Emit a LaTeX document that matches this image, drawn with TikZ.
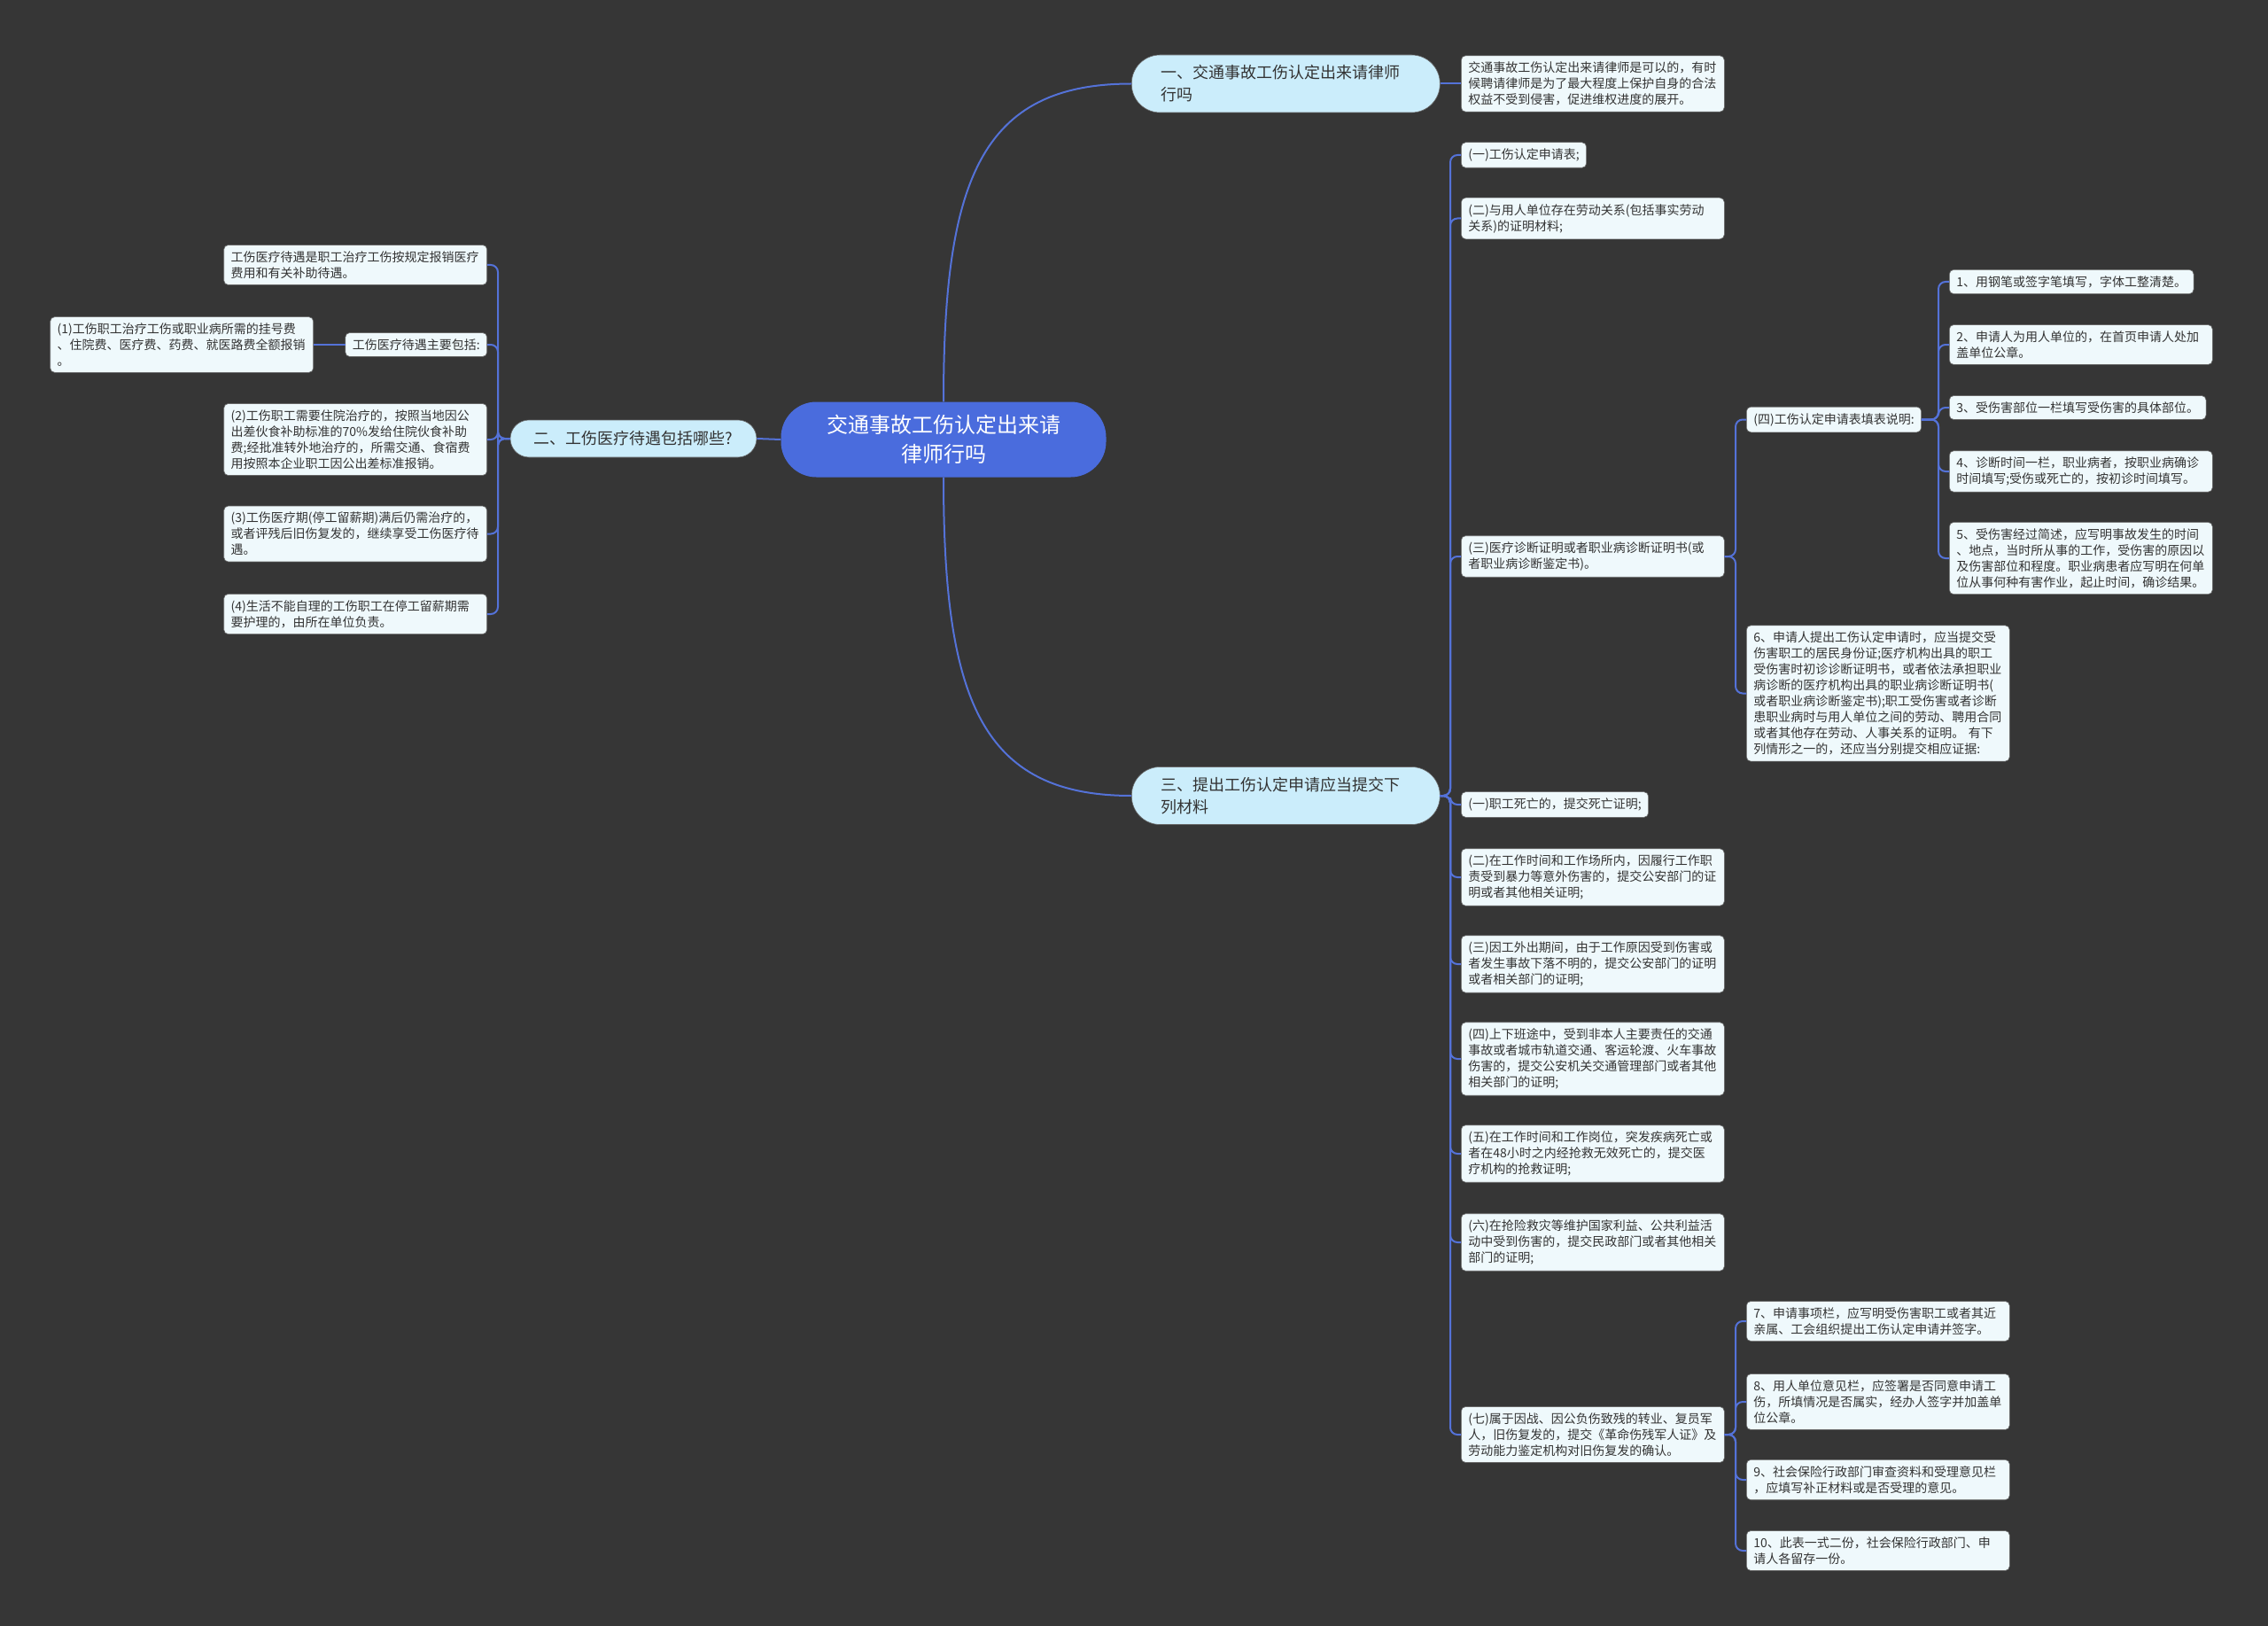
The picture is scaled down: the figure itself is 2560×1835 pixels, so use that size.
\documentclass[tikz,border=0pt]{standalone}
\usepackage{fontspec}
\usepackage{tikz}
\usetikzlibrary{positioning,calc}
\newfontfamily\cjk{Noto Sans CJK SC}
\definecolor{cBack}{HTML}{363636}
\definecolor{cLine}{HTML}{5472D8}
\definecolor{cRoot}{HTML}{4A6CDD}
\definecolor{cBranch}{HTML}{CBEDFB}
\definecolor{cLeaf}{HTML}{EFF9FC}
\definecolor{cInk}{HTML}{333333}
\tikzset{
  root/.style  ={rounded corners=40pt,fill=cRoot,text=white,align=center,
                 minimum width=367pt,minimum height=85pt,
                 font=\cjk\fontsize{24}{33}\selectfont},
  branch/.style={fill=cBranch,draw=black!60,line width=0.6pt,text=cInk,
                 font=\cjk\fontsize{18}{25}\selectfont},
  bigbr/.style ={branch,rounded corners=32pt,text width=282pt,align=left,
                 inner xsep=33pt,minimum height=65pt,anchor=west},
  leaf/.style  ={rounded corners=5pt,fill=cLeaf,draw=black!60,line width=0.6pt,
                 text=cInk,align=left,inner xsep=8pt,inner ysep=7pt,
                 font=\cjk\fontsize{14}{18}\selectfont},
  rleaf/.style ={leaf,anchor=west},
  lleaf/.style ={leaf,anchor=east},
  wide/.style  ={text width=281pt},
  link/.style  ={draw=cLine,line width=2pt,rounded corners=8pt},
}

\begin{document}
\begin{tikzpicture}[x=1pt,y=-1pt]
% canvas
\fill[cBack] (0,0) rectangle (2560,1835);
\useasboundingbox (0,0) rectangle (2560,1835);

% centre and main branches
\node[root] (root) at (1065,496) {交通事故工伤认定出来请\\律师行吗};
\node[bigbr] (b1) at (1277,94.5) {一、交通事故工伤认定出来请律师\\行吗};
\node[bigbr] (b3) at (1277,898) {三、提出工伤认定申请应当提交下\\列材料};
\node[branch,rounded corners=21pt,minimum width=278pt,minimum height=42pt]
  (b2) at (715,495) {二、工伤医疗待遇包括哪些?};

% branch one
\node[rleaf,wide] (a1) at (1649,94.5) {交通事故工伤认定出来请律师是可以的，有时\\候聘请律师是为了最大程度上保护自身的合法\\权益不受到侵害，促进维权进度的展开。};

% branch three
\node[rleaf] (c1) at (1649,175) {(一)工伤认定申请表;};
\node[rleaf,wide] (c2) at (1649,246.5) {(二)与用人单位存在劳动关系(包括事实劳动\\关系)的证明材料;};
\node[rleaf,wide] (c3) at (1649,628) {(三)医疗诊断证明或者职业病诊断证明书(或\\者职业病诊断鉴定书)。};
\node[rleaf] (c4) at (1649,908) {(一)职工死亡的，提交死亡证明;};
\node[rleaf,wide] (c5) at (1649,990) {(二)在工作时间和工作场所内，因履行工作职\\责受到暴力等意外伤害的，提交公安部门的证\\明或者其他相关证明;};
\node[rleaf,wide] (c6) at (1649,1088) {(三)因工外出期间，由于工作原因受到伤害或\\者发生事故下落不明的，提交公安部门的证明\\或者相关部门的证明;};
\node[rleaf,wide] (c7) at (1649,1195) {(四)上下班途中，受到非本人主要责任的交通\\事故或者城市轨道交通、客运轮渡、火车事故\\伤害的，提交公安机关交通管理部门或者其他\\相关部门的证明;};
\node[rleaf,wide] (c8) at (1649,1302) {(五)在工作时间和工作岗位，突发疾病死亡或\\者在48小时之内经抢救无效死亡的，提交医\\疗机构的抢救证明;};
\node[rleaf,wide] (c9) at (1649,1402) {(六)在抢险救灾等维护国家利益、公共利益活\\动中受到伤害的，提交民政部门或者其他相关\\部门的证明;};
\node[rleaf,wide] (c10) at (1649,1619) {(七)属于因战、因公负伤致残的转业、复员军\\人，旧伤复发的，提交《革命伤残军人证》及\\劳动能力鉴定机构对旧伤复发的确认。};

\node[rleaf] (d1) at (1971,473.5) {(四)工伤认定申请表填表说明:};
\node[rleaf,wide] (d2) at (1971,782.5) {6、申请人提出工伤认定申请时，应当提交受\\伤害职工的居民身份证;医疗机构出具的职工\\受伤害时初诊诊断证明书，或者依法承担职业\\病诊断的医疗机构出具的职业病诊断证明书(\\或者职业病诊断鉴定书);职工受伤害或者诊断\\患职业病时与用人单位之间的劳动、聘用合同\\或者其他存在劳动、人事关系的证明。 有下\\列情形之一的，还应当分别提交相应证据:};

\node[rleaf] (e1) at (2200,318) {1、用钢笔或签字笔填写，字体工整清楚。};
\node[rleaf,wide] (e2) at (2200,389) {2、申请人为用人单位的，在首页申请人处加\\盖单位公章。};
\node[rleaf] (e3) at (2200,460) {3、受伤害部位一栏填写受伤害的具体部位。};
\node[rleaf,wide] (e4) at (2200,532) {4、诊断时间一栏，职业病者，按职业病确诊\\时间填写;受伤或死亡的，按初诊时间填写。};
\node[rleaf,wide] (e5) at (2200,630) {5、受伤害经过简述，应写明事故发生的时间\\、地点，当时所从事的工作，受伤害的原因以\\及伤害部位和程度。职业病患者应写明在何单\\位从事何种有害作业，起止时间，确诊结果。};

\node[rleaf,wide] (f1) at (1971,1491) {7、申请事项栏，应写明受伤害职工或者其近\\亲属、工会组织提出工伤认定申请并签字。};
\node[rleaf,wide] (f2) at (1971,1582) {8、用人单位意见栏，应签署是否同意申请工\\伤，所填情况是否属实，经办人签字并加盖单\\位公章。};
\node[rleaf,wide] (f3) at (1971,1670) {9、社会保险行政部门审查资料和受理意见栏\\，应填写补正材料或是否受理的意见。};
\node[rleaf,wide] (f4) at (1971,1750) {10、此表一式二份，社会保险行政部门、申\\请人各留存一份。};

% branch two
\node[lleaf,wide] (g1) at (550,299) {工伤医疗待遇是职工治疗工伤按规定报销医疗\\费用和有关补助待遇。};
\node[lleaf] (g2) at (550,389) {工伤医疗待遇主要包括:};
\node[lleaf,wide] (g3) at (550,496) {(2)工伤职工需要住院治疗的，按照当地因公\\出差伙食补助标准的70\%发给住院伙食补助\\费;经批准转外地治疗的，所需交通、食宿费\\用按照本企业职工因公出差标准报销。};
\node[lleaf,wide] (g4) at (550,602.5) {(3)工伤医疗期(停工留薪期)满后仍需治疗的，\\或者评残后旧伤复发的，继续享受工伤医疗待\\遇。};
\node[lleaf,wide] (g5) at (550,693) {(4)生活不能自理的工伤职工在停工留薪期需\\要护理的，由所在单位负责。};
\node[lleaf,wide] (h1) at (354,389) {(1)工伤职工治疗工伤或职业病所需的挂号费\\、住院费、医疗费、药费、就医路费全额报销\\。};

% connectors
\draw[link] (root.north) .. controls ($(root.north)+(0,-250)$) and ($(b1.west)+(-170,0)$) .. (b1.west);
\draw[link] (root.south) .. controls ($(root.south)+(0,250)$) and ($(b3.west)+(-170,0)$) .. (b3.west);
\draw[link] (root.west) -- (b2.east);
\draw[link] (b1.east) -- (a1.west);
\draw[link] (g2.west) -- (h1.east);
\foreach \k in {c1,c2,c3,c4,c5,c6,c7,c8,c9,c10}
  \draw[link] (\k.west) -- ++(-12,0) |- (b3.east);
\foreach \k in {d1,d2}
  \draw[link] (\k.west) -- ++(-12,0) |- (c3.east);
\foreach \k in {e1,e2,e3,e4,e5}
  \draw[link] (\k.west) -- ++(-12,0) |- (d1.east);
\foreach \k in {f1,f2,f3,f4}
  \draw[link] (\k.west) -- ++(-12,0) |- (c10.east);
\foreach \k in {g1,g2,g3,g4,g5}
  \draw[link] (\k.east) -- ++(12,0) |- (b2.west);
\end{tikzpicture}
\end{document}
